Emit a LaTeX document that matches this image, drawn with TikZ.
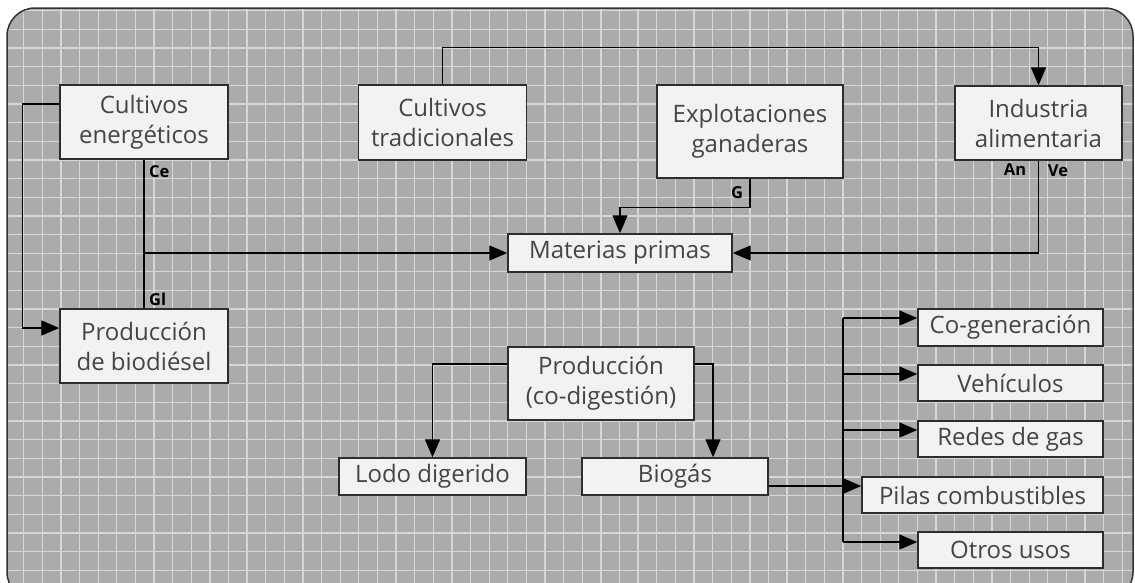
\documentclass[tikz,border=0pt]{standalone}
\usepackage{fontspec}
\setmainfont{Open Sans}
\usetikzlibrary{arrows.meta}
\definecolor{bggray}{RGB}{171,171,171}
\definecolor{gridc}{RGB}{215,215,215}
\definecolor{boxfill}{RGB}{242,242,242}
\definecolor{boxdraw}{RGB}{45,45,45}
\definecolor{txt}{RGB}{68,68,68}
\tikzset{
  box/.style={draw=boxdraw, fill=boxfill, line width=1.4pt, inner sep=0pt, align=center,
    text=txt, font=\fontsize{24}{30}\selectfont},
  conn/.style={draw=black, line width=1.3pt},
  arr/.style={conn, -{Triangle[length=18pt,width=15pt]}},
  lbl/.style={font=\bfseries\fontsize{16.5}{18}\selectfont, text=black, inner sep=0pt},
}
\begin{document}
\begin{tikzpicture}[x=1pt,y=-1pt]
\useasboundingbox (0,0) rectangle (1135,582);
\fill[white] (0,0) rectangle (1135,582);
\begin{scope}
  \clip[rounded corners=28pt] (7,8) rectangle (1133,600);
  \fill[bggray] (0,0) rectangle (1135,600);
  \foreach \i in {0,...,61} \draw[gridc, line width=1.3pt] ({5.06+\i*18.62},0) -- ++(0,600);
  \foreach \i in {0,...,32} \draw[gridc, line width=1.3pt] (0,{10.7+\i*18.65}) -- ++(1135,0);
\end{scope}
\draw[draw={rgb,255:red,50;green,50;blue,50}, line width=1.5pt, rounded corners=28pt] (7,8) rectangle (1133,600);

% nodes
\node[box, minimum width=168pt, minimum height=74pt] (ce) at (144,122) {Cultivos\\energéticos};
\node[box, minimum width=168pt, minimum height=74pt] (pb) at (144,346) {Producción\\de biodiésel};
\node[box, minimum width=168pt, minimum height=75pt] (ct) at (442.5,122.5) {Cultivos\\tradicionales};
\node[box, minimum width=186pt, minimum height=93pt] (eg) at (750,131.5) {Explotaciones\\ganaderas};
\node[box, minimum width=167pt, minimum height=74pt] (ia) at (1038.5,123) {Industria\\alimentaria};
\node[box, minimum width=224pt, minimum height=38pt] (mp) at (620,253) {Materias primas};
\node[box, minimum width=186pt, minimum height=73pt] (pc) at (601,383.5) {Producción\\(co-digestión)};
\node[box, minimum width=187pt, minimum height=37pt] (ld) at (432.5,476.5) {Lodo digerido};
\node[box, minimum width=186pt, minimum height=37pt] (bg) at (675,476.5) {Biogás};
\node[box, minimum width=185pt, minimum height=37pt] (cg) at (1010.5,327.5) {Co-generación};
\node[box, minimum width=185pt, minimum height=36pt] (ve) at (1010.5,383) {Vehículos};
\node[box, minimum width=185pt, minimum height=36pt] (rg) at (1010.5,439) {Redes de gas};
\node[box, minimum width=241pt, minimum height=36pt] (pi) at (982.5,495) {Pilas combustibles};
\node[box, minimum width=185pt, minimum height=36pt] (ou) at (1010.5,550) {Otros usos};

% labels
\node[lbl, anchor=west] (lce) at (149,172) {Ce};
\node[lbl, anchor=west] (lgl) at (149,299) {Gl};
\node[lbl] (lg) at (737,193) {G};
\node[lbl] (lan) at (1015,170) {An};
\node[lbl] (lve) at (1058,171) {Ve};

% connectors
\draw[arr] ([yshift=18pt]ce.west) -- ++(-37,0) |- ([yshift=18pt]pb.west);
\draw[conn] (ce.south) -- (pb.north);
\draw[arr] (ce.south |- mp.west) -- (mp.west);
\draw[arr] (ct.north) -- ++(0,-37) -| (ia.north);
\draw[arr] (eg.south) -- ++(0,29) -| (mp.north);
\draw[arr] (ia.south) |- (mp.east);
\draw[arr] ([yshift=19.5pt]pc.west) -| (ld.north);
\draw[arr] ([yshift=19.5pt]pc.east) -| ([xshift=38pt]bg.north);
\coordinate (bus) at (843,486);
\coordinate (bt) at ([yshift=9.5pt]bus |- cg.west);
\coordinate (bb) at ([yshift=8pt]bus |- ou.west);
\draw[conn, line width=1.8pt] (bt) -- (bb);
\draw[conn, line width=2.3pt] ([yshift=-9.5pt]bg.east) -- (bus);
\draw[arr, line width=2pt] (bus) -- ([yshift=9pt]pi.west);
\draw[arr] (bt) -- ([yshift=9.5pt]cg.west);
\draw[arr] ([yshift=9pt]bus |- ve.west) -- ([yshift=9pt]ve.west);
\draw[arr] ([yshift=9pt]bus |- rg.west) -- ([yshift=9pt]rg.west);
\draw[arr] (bb) -- ([yshift=8pt]ou.west);
\end{tikzpicture}
\end{document}
